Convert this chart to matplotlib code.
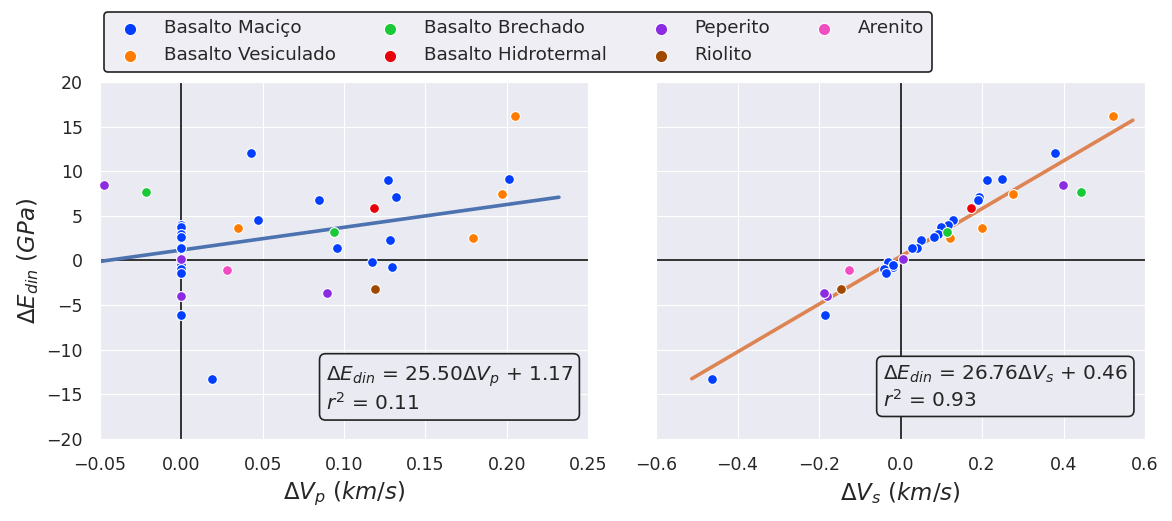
import numpy as np
import matplotlib
matplotlib.use('Agg')
import matplotlib.pyplot as plt
import seaborn as sns

# rock types and their colours (seaborn "bright")
categories = ['Basalto Maciço', 'Basalto Vesiculado', 'Basalto Brechado',
              'Basalto Hidrotermal', 'Peperito', 'Riolito', 'Arenito']
colors = ['#023eff', '#ff7c00', '#1ac938', '#e8000b', '#8b2be2', '#9f4800', '#f14cc1']

# samples: category, dVp (km/s), dVs (km/s), dEdin (GPa)
sample_cat = ['Basalto Maciço'] * 20 + ['Basalto Vesiculado'] * 4 + ['Basalto Brechado'] * 2 \
    + ['Basalto Hidrotermal'] + ['Peperito'] * 4 + ['Riolito'] + ['Arenito']
dvp = [0.0428, 0.127, 0.2015, 0.132, 0.0847, 0.0472, 0.0, 0.0, 0.0, 0.0,
       0.128, 0.0957, 0.0, 0.117, 0.1297, 0.0, 0.0, 0.0, 0.0, 0.0189,
       0.2051, 0.197, 0.035, 0.179,
       -0.0216, 0.094,
       0.1187,
       -0.0475, 0.0, 0.0, 0.0896,
       0.1193,
       0.0279]
dvs = [0.379, 0.213, 0.250, 0.193, 0.190, 0.128, 0.117, 0.099, 0.093, 0.083,
       0.050, 0.040, 0.027, -0.030, -0.018, -0.019, -0.040, -0.036, -0.185, -0.463,
       0.521, 0.276, 0.201, 0.121,
       0.444, 0.113,
       0.173,
       0.399, 0.005, -0.180, -0.188,
       -0.147,
       -0.127]
de = [12.04, 8.98, 9.09, 7.08, 6.82, 4.50, 4.01, 3.75, 2.93, 2.67,
      2.33, 1.36, 1.45, -0.17, -0.73, -0.45, -0.95, -1.36, -6.07, -13.3,
      16.19, 7.41, 3.61, 2.48,
      7.71, 3.16,
      5.88,
      8.46, 0.13, -3.94, -3.68,
      -3.16,
      -1.10]

# regression results shown on the chart
fit_p = {'slope': 25.50, 'intercept': 1.17, 'r2': 0.11}
fit_s = {'slope': 26.76, 'intercept': 0.46, 'r2': 0.93}

sns.set_style('darkgrid')
plt.rcParams['font.family'] = ['DejaVu Sans']

fig = plt.figure(figsize=(11.72, 5.21), dpi=100)
W, H = 1172, 521
ax1 = fig.add_axes([100 / W, 1 - 439 / H, 488 / W, 357 / H])
ax2 = fig.add_axes([656 / W, 1 - 439 / H, 489 / W, 357 / H], sharey=ax1)

dvp = np.array(dvp)
dvs = np.array(dvs)
de = np.array(de)
sample_cat = np.array(sample_cat)

handles = []
for cat, col in zip(categories, colors):
    m = sample_cat == cat
    h = ax1.scatter(dvp[m], de[m], s=50, color=col, edgecolor='white', linewidth=0.8, zorder=3, label=cat)
    ax2.scatter(dvs[m], de[m], s=50, color=col, edgecolor='white', linewidth=0.8, zorder=3)
    handles.append(h)

# regression lines
def reg_line(ax, x, fit, color, pad_lo, pad_hi):
    span = x.max() - x.min()
    xs = np.linspace(x.min() - pad_lo * span, x.max() + pad_hi * span, 50)
    ax.plot(xs, fit['slope'] * xs + fit['intercept'], color=color, lw=2.6, zorder=2)

reg_line(ax1, dvp, fit_p, '#4c72b0', 0.1, 0.107)
reg_line(ax2, dvs, fit_s, '#dd8452', 0.05, 0.05)

for ax in (ax1, ax2):
    ax.axhline(0, color='#222222', lw=1.3, zorder=1)
    ax.axvline(0, color='#222222', lw=1.3, zorder=1)
    ax.tick_params(labelsize=12.5, pad=9)

ax1.set_xlim(-0.05, 0.25)
ax1.set_xticks(np.arange(-0.05, 0.2501, 0.05))
ax1.set_xticklabels([f'{v:.2f}'.replace('-', '\u2212') for v in np.arange(-0.05, 0.2501, 0.05)])
ax2.set_xlim(-0.6, 0.6)
ax2.set_xticks(np.arange(-0.6, 0.601, 0.2))
ax2.set_xticklabels([f'{v:.1f}'.replace('-', '\u2212') if abs(v) > 1e-9 else '0.0'
                     for v in np.arange(-0.6, 0.601, 0.2)])
ax1.set_ylim(-20, 20)
ax1.set_yticks(np.arange(-20, 21, 5))
plt.setp(ax2.get_yticklabels(), visible=False)

ax1.set_xlabel(r'$\Delta V_p\ (km/s)$', fontsize=16.5)
ax2.set_xlabel(r'$\Delta V_s\ (km/s)$', fontsize=16.5)
ax1.set_ylabel(r'$\Delta E_{din}\ (GPa)$', fontsize=16.5)

box = dict(boxstyle='round,pad=0.3', facecolor='#eaeaf2', edgecolor='#222222', lw=1.2)
ax1.text(0.97, 0.07,
         r'$\Delta E_{din}$ = %.2f$\Delta V_p$ + %.2f' % (fit_p['slope'], fit_p['intercept'])
         + '\n' + r'$r^2$ = %.2f' % fit_p['r2'],
         transform=ax1.transAxes, ha='right', va='bottom', ma='left', fontsize=14.5, bbox=box, zorder=5)
ax2.text(0.965, 0.08,
         r'$\Delta E_{din}$ = %.2f$\Delta V_s$ + %.2f' % (fit_s['slope'], fit_s['intercept'])
         + '\n' + r'$r^2$ = %.2f' % fit_s['r2'],
         transform=ax2.transAxes, ha='right', va='bottom', ma='left', fontsize=14.5, bbox=box, zorder=5)

leg = fig.legend(handles=handles, loc='upper left', bbox_to_anchor=(104 / W, 1 - 12 / H),
                 ncol=4, fontsize=13.2, borderaxespad=0, handletextpad=0.85, columnspacing=1.95,
                 labelspacing=0.5, borderpad=0.4, markerscale=1.25,
                 frameon=True, fancybox=True, facecolor='#eeeef4', edgecolor='#222222', framealpha=1)
leg.get_frame().set_linewidth(1.2)

fig.savefig('out.png', dpi=100)
